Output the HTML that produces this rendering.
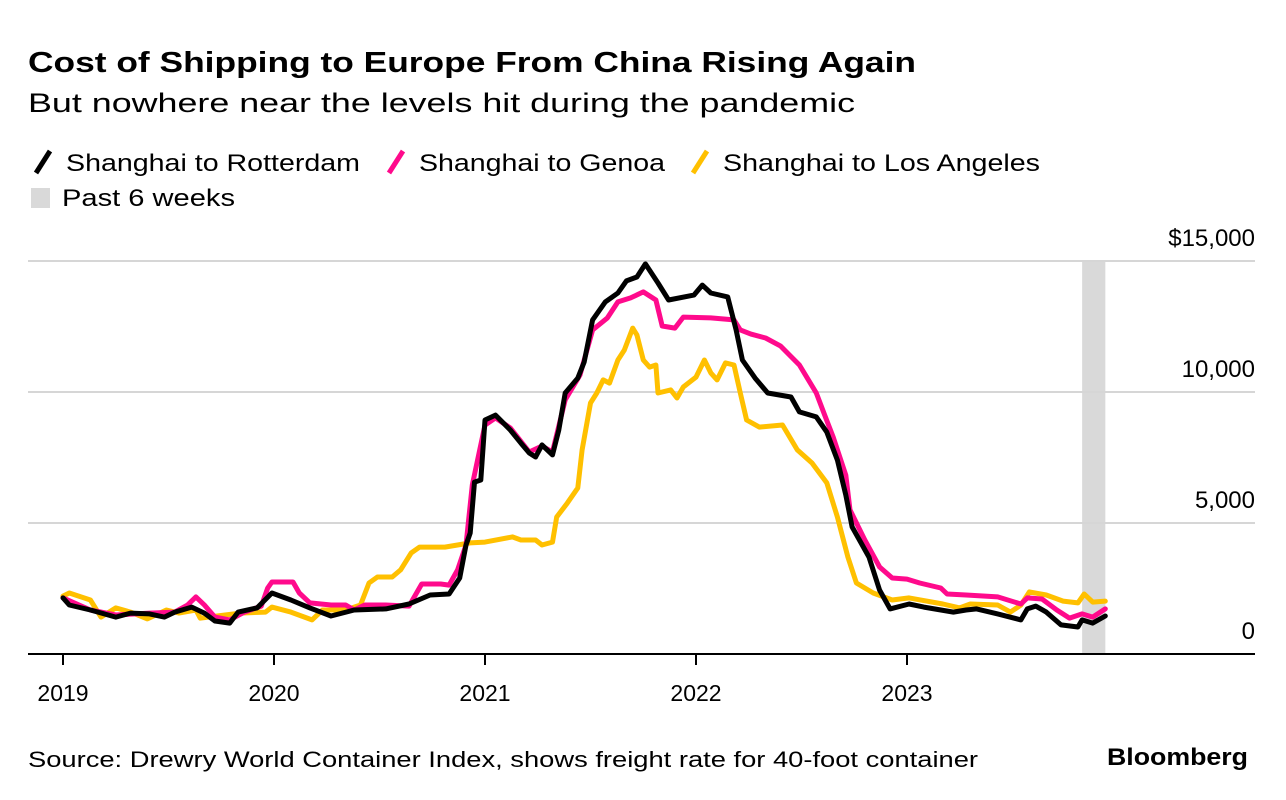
<!DOCTYPE html>
<html><head><meta charset="utf-8"><style>
html,body{margin:0;padding:0;background:#fff;}
svg{display:block;font-family:"Liberation Sans",Arial,sans-serif;}
</style></head><body>
<svg id="chart" width="1286" height="800" viewBox="0 0 1286 800" xmlns="http://www.w3.org/2000/svg">
<text x="28" y="72" font-size="29" font-weight="bold" textLength="888" lengthAdjust="spacingAndGlyphs" fill="#000">Cost of Shipping to Europe From China Rising Again</text>
<text x="28" y="112" font-size="27" textLength="827" lengthAdjust="spacingAndGlyphs" fill="#000">But nowhere near the levels hit during the pandemic</text>
<g font-size="24" fill="#000">
<line x1="36" y1="173" x2="50" y2="151" stroke="#000" stroke-width="5"/>
<text x="66" y="171" textLength="294" lengthAdjust="spacingAndGlyphs">Shanghai to Rotterdam</text>
<line x1="389" y1="173" x2="403" y2="151" stroke="#ff0a8c" stroke-width="5"/>
<text x="419" y="171" textLength="246" lengthAdjust="spacingAndGlyphs">Shanghai to Genoa</text>
<line x1="693" y1="173" x2="707" y2="151" stroke="#ffc000" stroke-width="5"/>
<text x="723" y="171" textLength="317" lengthAdjust="spacingAndGlyphs">Shanghai to Los Angeles</text>
<rect x="31" y="188" width="19" height="20" fill="#d9d9d9"/>
<text x="62" y="206" textLength="173" lengthAdjust="spacingAndGlyphs">Past 6 weeks</text>
</g>
<g id="plot"></g>
<text x="28" y="767" font-size="22" textLength="950" lengthAdjust="spacingAndGlyphs" fill="#000">Source: Drewry World Container Index, shows freight rate for 40-foot container</text>
<text x="1107" y="765" font-size="24" font-weight="bold" textLength="141" lengthAdjust="spacingAndGlyphs" fill="#000">Bloomberg</text>
</svg>
<script>
const yTicks=[0,5000,10000,15000];
const yTickLabels=["0","5,000","10,000","$15,000"];
const xTicks=[2019,2020,2021,2022,2023];
const shadeStart=2023.83, shadeEnd=2023.94;
const rotterdamT=[2019.00,2019.03,2019.13,2019.25,2019.32,2019.41,2019.48,2019.53,2019.61,2019.67,2019.72,2019.79,2019.83,2019.92,2019.99,2020.08,2020.17,2020.27,2020.38,2020.53,2020.64,2020.74,2020.83,2020.88,2020.91,2020.93,2020.95,2020.98,2021.00,2021.05,2021.12,2021.17,2021.21,2021.24,2021.27,2021.32,2021.35,2021.38,2021.44,2021.47,2021.51,2021.57,2021.63,2021.67,2021.72,2021.76,2021.82,2021.87,2021.99,2022.03,2022.07,2022.15,2022.19,2022.22,2022.28,2022.34,2022.45,2022.49,2022.57,2022.62,2022.67,2022.71,2022.74,2022.82,2022.87,2022.92,2023.01,2023.08,2023.22,2023.28,2023.33,2023.43,2023.54,2023.57,2023.61,2023.66,2023.73,2023.81,2023.83,2023.88,2023.94];
const rotterdamV=[2140,1870,1680,1410,1560,1530,1410,1600,1790,1560,1260,1180,1600,1760,2330,2060,1760,1450,1680,1720,1910,2250,2290,2900,4160,4620,6560,6640,8930,9120,8550,8050,7670,7520,7980,7600,8550,9960,10530,11150,12750,13440,13780,14240,14390,14890,14160,13510,13700,14080,13780,13630,12370,11220,10530,9960,9810,9240,9050,8470,7400,6070,4850,3700,2440,1720,1910,1790,1600,1680,1720,1530,1300,1720,1830,1600,1110,1030,1300,1180,1450];
const genoaT=[2019.00,2019.13,2019.25,2019.41,2019.53,2019.59,2019.63,2019.67,2019.72,2019.79,2019.86,2019.94,2019.97,2019.99,2020.09,2020.12,2020.17,2020.27,2020.34,2020.38,2020.43,2020.53,2020.64,2020.70,2020.79,2020.83,2020.87,2020.91,2020.94,2021.00,2021.05,2021.12,2021.21,2021.27,2021.32,2021.38,2021.45,2021.51,2021.58,2021.63,2021.69,2021.75,2021.81,2021.84,2021.90,2021.94,2022.07,2022.18,2022.21,2022.26,2022.33,2022.40,2022.49,2022.57,2022.61,2022.65,2022.71,2022.73,2022.80,2022.87,2022.93,2023.00,2023.06,2023.16,2023.19,2023.28,2023.43,2023.54,2023.57,2023.64,2023.71,2023.77,2023.83,2023.88,2023.94];
const genoaV=[2140,1680,1490,1560,1600,1870,2180,1870,1410,1300,1600,1830,2520,2750,2750,2330,1950,1870,1870,1680,1870,1870,1830,2670,2670,2630,3210,4160,6450,8740,9010,8630,7710,7940,7710,9700,10650,12370,12830,13440,13590,13820,13510,12520,12440,12860,12830,12750,12370,12210,12060,11760,11030,9960,9120,8280,6830,5500,4350,3320,2900,2860,2710,2520,2290,2250,2180,1910,2140,2100,1680,1370,1530,1410,1720];
const laT=[2019.00,2019.03,2019.13,2019.18,2019.25,2019.32,2019.40,2019.49,2019.55,2019.63,2019.65,2019.84,2019.96,2019.99,2020.08,2020.18,2020.23,2020.34,2020.41,2020.45,2020.49,2020.56,2020.60,2020.65,2020.69,2020.81,2020.93,2021.00,2021.13,2021.17,2021.24,2021.27,2021.32,2021.34,2021.39,2021.44,2021.46,2021.50,2021.53,2021.56,2021.59,2021.63,2021.66,2021.70,2021.72,2021.75,2021.78,2021.81,2021.82,2021.88,2021.91,2021.94,2022.00,2022.04,2022.07,2022.10,2022.14,2022.18,2022.21,2022.24,2022.30,2022.41,2022.48,2022.55,2022.62,2022.67,2022.72,2022.76,2022.84,2022.93,2023.01,2023.17,2023.25,2023.30,2023.43,2023.49,2023.54,2023.58,2023.66,2023.74,2023.81,2023.84,2023.88,2023.94];
const laV=[2210,2330,2060,1410,1760,1600,1340,1680,1560,1680,1370,1560,1600,1790,1600,1300,1680,1680,1870,2710,2940,2940,3210,3860,4080,4080,4240,4270,4470,4350,4350,4160,4270,5230,5760,6340,7790,9580,9960,10460,10340,11220,11600,12440,12180,11220,10950,11030,9960,10080,9770,10190,10570,11220,10730,10460,11110,11030,9960,8930,8660,8740,7790,7290,6530,5230,3700,2710,2330,2060,2140,1910,1760,1910,1870,1600,1870,2370,2250,2020,1950,2290,1980,2020];

const NS="http://www.w3.org/2000/svg";
const plot=document.getElementById('plot');
function xScale(t){return 63+(t-2019)*211;}
function yScale(v){return 654-v*131/5000;}
function mk(tag,attrs){const e=document.createElementNS(NS,tag);for(const k in attrs)e.setAttribute(k,attrs[k]);plot.appendChild(e);return e;}

const band=mk('rect',{x:xScale(shadeStart),y:yScale(15000),width:xScale(shadeEnd)-xScale(shadeStart),height:yScale(0)-yScale(15000),fill:'#d9d9d9'});



yTicks.forEach((v,i)=>{
  if(v>0){const g=mk('line',{x1:28,x2:1255,y1:yScale(v),y2:yScale(v),stroke:'#d6d6d6','stroke-width':2});
  
  }
  const t=mk('text',{x:1255,y:yScale(v)-15,'text-anchor':'end','font-size':24,fill:'#000'});
  t.textContent=yTickLabels[i];
  
  
});

function series(T,V,color,name){
  const d=T.map((t,i)=>(i?'L':'M')+xScale(t).toFixed(1)+','+yScale(V[i]).toFixed(1)).join('');
  const p=mk('path',{d:d,fill:'none',stroke:color,'stroke-width':5,'stroke-linejoin':'round','stroke-linecap':'round'});
  
  
}
series(laT,laV,'#ffc000','line-los-angeles');
series(genoaT,genoaV,'#ff0a8c','line-genoa');
series(rotterdamT,rotterdamV,'#000','line-rotterdam');

const ax=mk('line',{x1:28,x2:1255,y1:654,y2:654,stroke:'#000','stroke-width':2});


xTicks.forEach(y=>{
  const tk=mk('line',{x1:xScale(y),x2:xScale(y),y1:654,y2:665,stroke:'#000','stroke-width':2});
  
  
  const t=mk('text',{x:xScale(y),y:701,'text-anchor':'middle','font-size':23,fill:'#000'});
  t.textContent=String(y);
  
  
});
</script>
</body></html>
